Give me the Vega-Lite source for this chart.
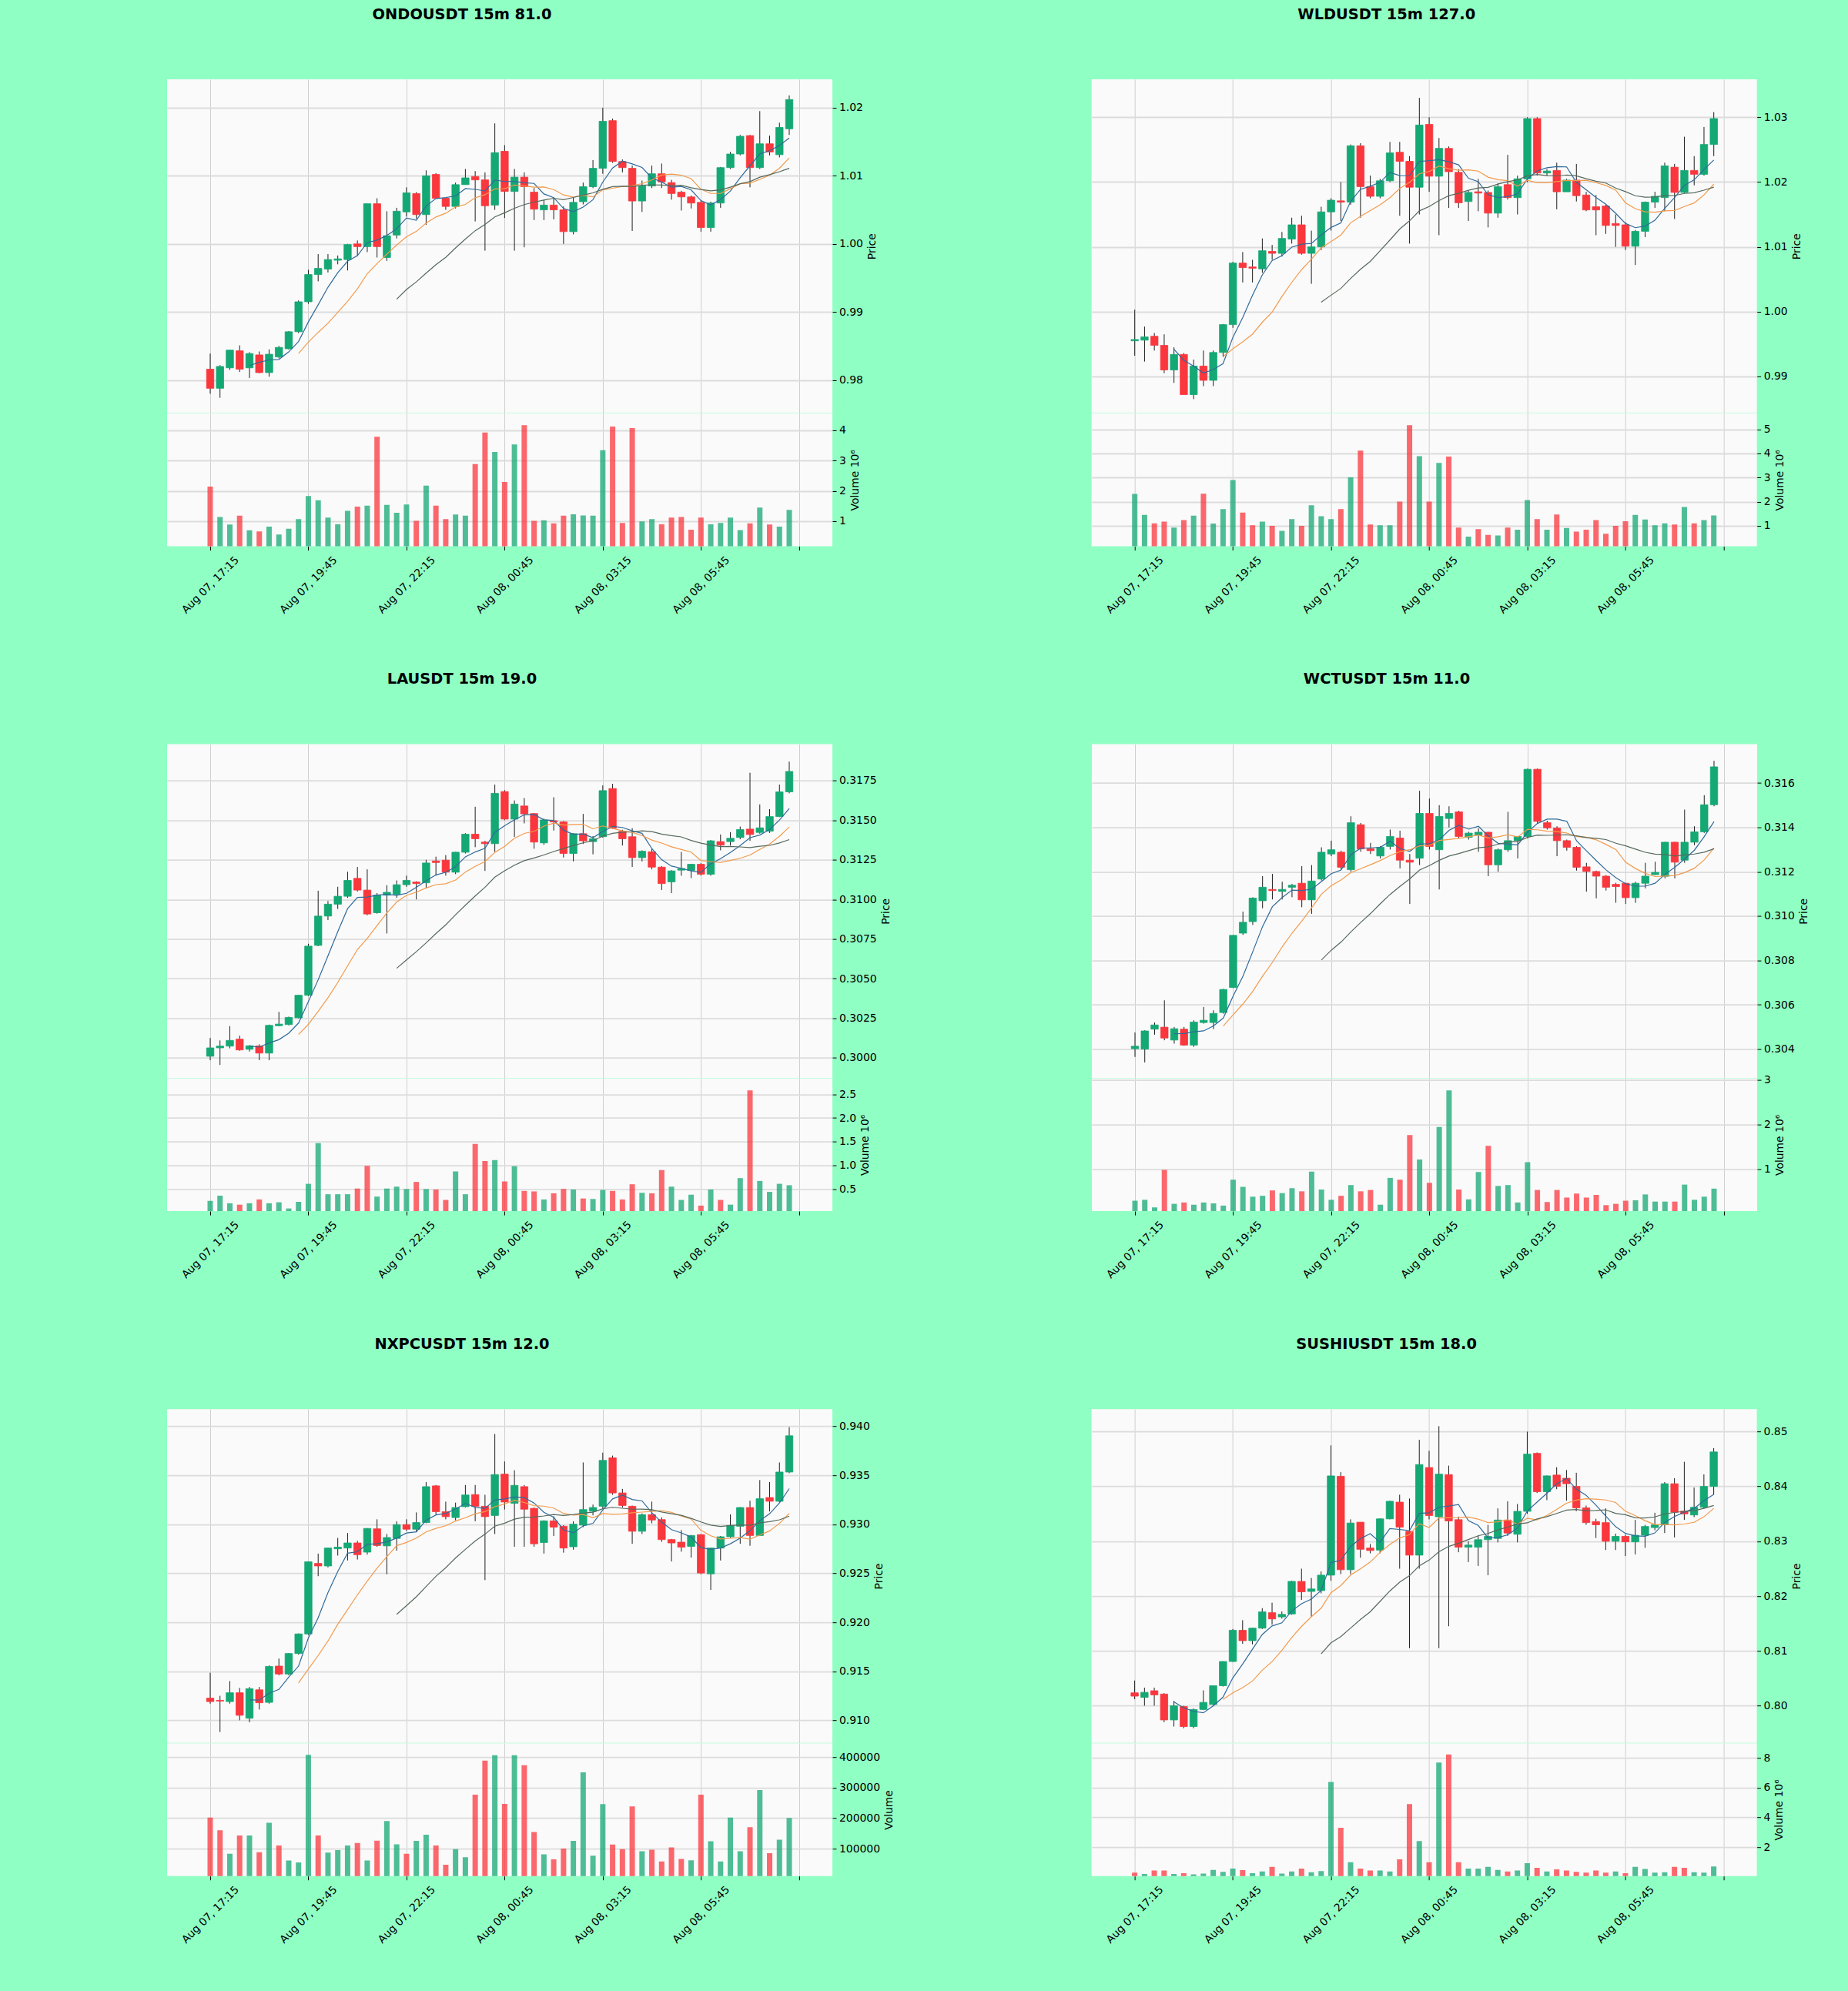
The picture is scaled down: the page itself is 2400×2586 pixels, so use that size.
{
  "$schema": "https://vega.github.io/schema/vega-lite/v6.json",
  "description": "Six 15m candlestick panels with MA5/MA10/MA20 and volume.",
  "background": "#90ffc4",
  "padding": {"left": 217, "top": 8, "right": 52, "bottom": 63},
  "config": {
    "font": "DejaVu Sans",
    "view": {"stroke": null, "fill": "#fafafa"},
    "title": {"fontSize": 19.4, "fontWeight": "bold", "color": "#000000", "anchor": "middle", "frame": "group", "offset": 74, "dx": -49},
    "axis": {"labelFontSize": 13.9, "titleFontSize": 13.9, "titleFontWeight": "normal", "labelColor": "#000000", "titleColor": "#000000", "domain": false, "tickColor": "#000000", "tickSize": 5, "labelPadding": 3.5, "titlePadding": 5},
    "axisX": {"gridColor": "#cfcfcf", "gridWidth": 1},
    "axisY": {"gridColor": "#dcdcdc", "gridWidth": 1.8, "titleAngle": 270, "titleBaseline": "top"}
  },
  "datasets": {
    "ondo": [
      {"t":"2025-08-07T17:15","o":0.9816,"h":0.9839,"l":0.9780,"c":0.9788,"v":2140000},
      {"t":"2025-08-07T17:30","o":0.9788,"h":0.9822,"l":0.9774,"c":0.9820,"v":1140000},
      {"t":"2025-08-07T17:45","o":0.9818,"h":0.9844,"l":0.9815,"c":0.9844,"v":890000},
      {"t":"2025-08-07T18:00","o":0.9843,"h":0.9851,"l":0.9812,"c":0.9816,"v":1180000},
      {"t":"2025-08-07T18:15","o":0.9818,"h":0.9841,"l":0.9803,"c":0.9839,"v":700000},
      {"t":"2025-08-07T18:30","o":0.9837,"h":0.9842,"l":0.9810,"c":0.9811,"v":660000},
      {"t":"2025-08-07T18:45","o":0.9811,"h":0.9845,"l":0.9805,"c":0.9838,"v":820000},
      {"t":"2025-08-07T19:00","o":0.9834,"h":0.9850,"l":0.9832,"c":0.9848,"v":560000},
      {"t":"2025-08-07T19:15","o":0.9846,"h":0.9872,"l":0.9845,"c":0.9871,"v":750000},
      {"t":"2025-08-07T19:30","o":0.9871,"h":0.9917,"l":0.9869,"c":0.9915,"v":1070000},
      {"t":"2025-08-07T19:45","o":0.9915,"h":0.9962,"l":0.9912,"c":0.9955,"v":1830000},
      {"t":"2025-08-07T20:00","o":0.9955,"h":0.9985,"l":0.9945,"c":0.9964,"v":1690000},
      {"t":"2025-08-07T20:15","o":0.9963,"h":0.9985,"l":0.9958,"c":0.9977,"v":1120000},
      {"t":"2025-08-07T20:30","o":0.9976,"h":0.9983,"l":0.9970,"c":0.9978,"v":900000},
      {"t":"2025-08-07T20:45","o":0.9977,"h":1.0000,"l":0.9961,"c":0.9999,"v":1340000},
      {"t":"2025-08-07T21:00","o":1.0000,"h":1.0005,"l":0.9982,"c":0.9996,"v":1480000},
      {"t":"2025-08-07T21:15","o":0.9996,"h":1.0059,"l":0.9988,"c":1.0059,"v":1510000},
      {"t":"2025-08-07T21:30","o":1.0059,"h":1.0067,"l":0.9980,"c":0.9996,"v":3780000},
      {"t":"2025-08-07T21:45","o":0.9980,"h":1.0048,"l":0.9975,"c":1.0012,"v":1540000},
      {"t":"2025-08-07T22:00","o":1.0013,"h":1.0053,"l":1.0008,"c":1.0048,"v":1280000},
      {"t":"2025-08-07T22:15","o":1.0047,"h":1.0083,"l":1.0040,"c":1.0075,"v":1550000},
      {"t":"2025-08-07T22:30","o":1.0074,"h":1.0076,"l":1.0037,"c":1.0043,"v":1010000},
      {"t":"2025-08-07T22:45","o":1.0043,"h":1.0108,"l":1.0028,"c":1.0100,"v":2170000},
      {"t":"2025-08-07T23:00","o":1.0102,"h":1.0104,"l":1.0067,"c":1.0067,"v":1510000},
      {"t":"2025-08-07T23:15","o":1.0067,"h":1.0067,"l":1.0050,"c":1.0055,"v":1070000},
      {"t":"2025-08-07T23:30","o":1.0055,"h":1.0090,"l":1.0052,"c":1.0087,"v":1220000},
      {"t":"2025-08-07T23:45","o":1.0087,"h":1.0110,"l":1.0087,"c":1.0097,"v":1180000},
      {"t":"2025-08-08T00:00","o":1.0099,"h":1.0107,"l":1.0033,"c":1.0094,"v":2880000},
      {"t":"2025-08-08T00:15","o":1.0094,"h":1.0105,"l":0.9990,"c":1.0056,"v":3920000},
      {"t":"2025-08-08T00:30","o":1.0057,"h":1.0177,"l":1.0050,"c":1.0134,"v":3280000},
      {"t":"2025-08-08T00:45","o":1.0136,"h":1.0145,"l":1.0038,"c":1.0077,"v":2290000},
      {"t":"2025-08-08T01:00","o":1.0077,"h":1.0110,"l":0.9990,"c":1.0098,"v":3530000},
      {"t":"2025-08-08T01:15","o":1.0098,"h":1.0105,"l":0.9995,"c":1.0084,"v":4160000},
      {"t":"2025-08-08T01:30","o":1.0076,"h":1.0082,"l":1.0035,"c":1.0051,"v":1010000},
      {"t":"2025-08-08T01:45","o":1.0050,"h":1.0065,"l":1.0035,"c":1.0057,"v":1030000},
      {"t":"2025-08-08T02:00","o":1.0057,"h":1.0068,"l":1.0036,"c":1.0050,"v":930000},
      {"t":"2025-08-08T02:15","o":1.0050,"h":1.0055,"l":1.0000,"c":1.0018,"v":1180000},
      {"t":"2025-08-08T02:30","o":1.0018,"h":1.0068,"l":1.0014,"c":1.0061,"v":1230000},
      {"t":"2025-08-08T02:45","o":1.0062,"h":1.0090,"l":1.0058,"c":1.0084,"v":1190000},
      {"t":"2025-08-08T03:00","o":1.0084,"h":1.0123,"l":1.0082,"c":1.0111,"v":1180000},
      {"t":"2025-08-08T03:15","o":1.0111,"h":1.0200,"l":1.0103,"c":1.0180,"v":3340000},
      {"t":"2025-08-08T03:30","o":1.0181,"h":1.0184,"l":1.0119,"c":1.0121,"v":4120000},
      {"t":"2025-08-08T03:45","o":1.0121,"h":1.0124,"l":1.0105,"c":1.0112,"v":940000},
      {"t":"2025-08-08T04:00","o":1.0111,"h":1.0115,"l":1.0019,"c":1.0063,"v":4070000},
      {"t":"2025-08-08T04:15","o":1.0063,"h":1.0093,"l":1.0047,"c":1.0085,"v":990000},
      {"t":"2025-08-08T04:30","o":1.0085,"h":1.0115,"l":1.0082,"c":1.0103,"v":1070000},
      {"t":"2025-08-08T04:45","o":1.0103,"h":1.0118,"l":1.0082,"c":1.0091,"v":900000},
      {"t":"2025-08-08T05:00","o":1.0090,"h":1.0094,"l":1.0065,"c":1.0074,"v":1120000},
      {"t":"2025-08-08T05:15","o":1.0076,"h":1.0078,"l":1.0049,"c":1.0069,"v":1140000},
      {"t":"2025-08-08T05:30","o":1.0069,"h":1.0071,"l":1.0052,"c":1.0060,"v":720000},
      {"t":"2025-08-08T05:45","o":1.0061,"h":1.0064,"l":1.0018,"c":1.0024,"v":1120000},
      {"t":"2025-08-08T06:00","o":1.0024,"h":1.0062,"l":1.0018,"c":1.0060,"v":900000},
      {"t":"2025-08-08T06:15","o":1.0060,"h":1.0113,"l":1.0053,"c":1.0112,"v":940000},
      {"t":"2025-08-08T06:30","o":1.0112,"h":1.0135,"l":1.0110,"c":1.0132,"v":1120000},
      {"t":"2025-08-08T06:45","o":1.0132,"h":1.0160,"l":1.0130,"c":1.0158,"v":710000},
      {"t":"2025-08-08T07:00","o":1.0159,"h":1.0160,"l":1.0083,"c":1.0112,"v":930000},
      {"t":"2025-08-08T07:15","o":1.0112,"h":1.0195,"l":1.0110,"c":1.0147,"v":1450000},
      {"t":"2025-08-08T07:30","o":1.0147,"h":1.0159,"l":1.0130,"c":1.0135,"v":890000},
      {"t":"2025-08-08T07:45","o":1.0131,"h":1.0178,"l":1.0127,"c":1.0171,"v":820000},
      {"t":"2025-08-08T08:00","o":1.0169,"h":1.0218,"l":1.0160,"c":1.0212,"v":1370000}
    ],
    "wld": [
      {"t":"2025-08-07T17:15","o":0.9955,"h":1.0003,"l":0.9932,"c":0.9957,"v":2320000},
      {"t":"2025-08-07T17:30","o":0.9956,"h":0.9977,"l":0.9923,"c":0.9961,"v":1450000},
      {"t":"2025-08-07T17:45","o":0.9962,"h":0.9967,"l":0.9940,"c":0.9948,"v":1100000},
      {"t":"2025-08-07T18:00","o":0.9948,"h":0.9965,"l":0.9905,"c":0.9910,"v":1170000},
      {"t":"2025-08-07T18:15","o":0.9910,"h":0.9945,"l":0.9890,"c":0.9934,"v":930000},
      {"t":"2025-08-07T18:30","o":0.9934,"h":0.9936,"l":0.9872,"c":0.9872,"v":1240000},
      {"t":"2025-08-07T18:45","o":0.9872,"h":0.9926,"l":0.9865,"c":0.9916,"v":1420000},
      {"t":"2025-08-07T19:00","o":0.9916,"h":0.9940,"l":0.9885,"c":0.9894,"v":2330000},
      {"t":"2025-08-07T19:15","o":0.9894,"h":0.9940,"l":0.9885,"c":0.9937,"v":1090000},
      {"t":"2025-08-07T19:30","o":0.9937,"h":0.9981,"l":0.9930,"c":0.9980,"v":1690000},
      {"t":"2025-08-07T19:45","o":0.9980,"h":1.0077,"l":0.9975,"c":1.0075,"v":2900000},
      {"t":"2025-08-07T20:00","o":1.0075,"h":1.0092,"l":1.0045,"c":1.0068,"v":1550000},
      {"t":"2025-08-07T20:15","o":1.0069,"h":1.0080,"l":1.0045,"c":1.0067,"v":1020000},
      {"t":"2025-08-07T20:30","o":1.0066,"h":1.0113,"l":1.0060,"c":1.0094,"v":1170000},
      {"t":"2025-08-07T20:45","o":1.0093,"h":1.0103,"l":1.0080,"c":1.0090,"v":1000000},
      {"t":"2025-08-07T21:00","o":1.0090,"h":1.0123,"l":1.0085,"c":1.0113,"v":790000},
      {"t":"2025-08-07T21:15","o":1.0112,"h":1.0145,"l":1.0105,"c":1.0134,"v":1280000},
      {"t":"2025-08-07T21:30","o":1.0134,"h":1.0148,"l":1.0088,"c":1.0090,"v":1000000},
      {"t":"2025-08-07T21:45","o":1.0090,"h":1.0125,"l":1.0043,"c":1.0100,"v":1850000},
      {"t":"2025-08-07T22:00","o":1.0100,"h":1.0162,"l":1.0095,"c":1.0154,"v":1400000},
      {"t":"2025-08-07T22:15","o":1.0154,"h":1.0175,"l":1.0125,"c":1.0172,"v":1280000},
      {"t":"2025-08-07T22:30","o":1.0171,"h":1.0200,"l":1.0140,"c":1.0169,"v":1690000},
      {"t":"2025-08-07T22:45","o":1.0169,"h":1.0258,"l":1.0165,"c":1.0256,"v":3010000},
      {"t":"2025-08-07T23:00","o":1.0256,"h":1.0260,"l":1.0145,"c":1.0193,"v":4120000},
      {"t":"2025-08-07T23:15","o":1.0193,"h":1.0210,"l":1.0175,"c":1.0178,"v":1050000},
      {"t":"2025-08-07T23:30","o":1.0178,"h":1.0205,"l":1.0175,"c":1.0202,"v":1020000},
      {"t":"2025-08-07T23:45","o":1.0202,"h":1.0262,"l":1.0200,"c":1.0245,"v":1020000},
      {"t":"2025-08-08T00:00","o":1.0246,"h":1.0262,"l":1.0148,"c":1.0232,"v":2000000},
      {"t":"2025-08-08T00:15","o":1.0232,"h":1.0240,"l":1.0105,"c":1.0192,"v":5170000},
      {"t":"2025-08-08T00:30","o":1.0192,"h":1.0330,"l":1.0150,"c":1.0288,"v":3890000},
      {"t":"2025-08-08T00:45","o":1.0289,"h":1.0300,"l":1.0185,"c":1.0209,"v":2000000},
      {"t":"2025-08-08T01:00","o":1.0209,"h":1.0268,"l":1.0118,"c":1.0252,"v":3610000},
      {"t":"2025-08-08T01:15","o":1.0252,"h":1.0255,"l":1.0160,"c":1.0216,"v":3870000},
      {"t":"2025-08-08T01:30","o":1.0215,"h":1.0220,"l":1.0160,"c":1.0168,"v":930000},
      {"t":"2025-08-08T01:45","o":1.0170,"h":1.0187,"l":1.0140,"c":1.0184,"v":550000},
      {"t":"2025-08-08T02:00","o":1.0185,"h":1.0205,"l":1.0155,"c":1.0183,"v":860000},
      {"t":"2025-08-08T02:15","o":1.0184,"h":1.0187,"l":1.0130,"c":1.0152,"v":620000},
      {"t":"2025-08-08T02:30","o":1.0152,"h":1.0198,"l":1.0145,"c":1.0193,"v":600000},
      {"t":"2025-08-08T02:45","o":1.0196,"h":1.0242,"l":1.0173,"c":1.0176,"v":930000},
      {"t":"2025-08-08T03:00","o":1.0176,"h":1.0210,"l":1.0150,"c":1.0205,"v":840000},
      {"t":"2025-08-08T03:15","o":1.0205,"h":1.0300,"l":1.0200,"c":1.0298,"v":2070000},
      {"t":"2025-08-08T03:30","o":1.0298,"h":1.0300,"l":1.0210,"c":1.0214,"v":1280000},
      {"t":"2025-08-08T03:45","o":1.0214,"h":1.0220,"l":1.0210,"c":1.0217,"v":840000},
      {"t":"2025-08-08T04:00","o":1.0218,"h":1.0230,"l":1.0158,"c":1.0185,"v":1470000},
      {"t":"2025-08-08T04:15","o":1.0185,"h":1.0205,"l":1.0185,"c":1.0203,"v":910000},
      {"t":"2025-08-08T04:30","o":1.0203,"h":1.0228,"l":1.0170,"c":1.0179,"v":760000},
      {"t":"2025-08-08T04:45","o":1.0180,"h":1.0185,"l":1.0155,"c":1.0157,"v":840000},
      {"t":"2025-08-08T05:00","o":1.0162,"h":1.0180,"l":1.0118,"c":1.0157,"v":1240000},
      {"t":"2025-08-08T05:15","o":1.0163,"h":1.0165,"l":1.0120,"c":1.0133,"v":670000},
      {"t":"2025-08-08T05:30","o":1.0136,"h":1.0150,"l":1.0100,"c":1.0133,"v":1000000},
      {"t":"2025-08-08T05:45","o":1.0134,"h":1.0138,"l":1.0095,"c":1.0101,"v":1190000},
      {"t":"2025-08-08T06:00","o":1.0101,"h":1.0126,"l":1.0072,"c":1.0124,"v":1450000},
      {"t":"2025-08-08T06:15","o":1.0124,"h":1.0170,"l":1.0115,"c":1.0169,"v":1260000},
      {"t":"2025-08-08T06:30","o":1.0169,"h":1.0185,"l":1.0160,"c":1.0178,"v":1020000},
      {"t":"2025-08-08T06:45","o":1.0176,"h":1.0230,"l":1.0155,"c":1.0225,"v":1100000},
      {"t":"2025-08-08T07:00","o":1.0223,"h":1.0228,"l":1.0143,"c":1.0184,"v":1050000},
      {"t":"2025-08-08T07:15","o":1.0184,"h":1.0270,"l":1.0183,"c":1.0218,"v":1780000},
      {"t":"2025-08-08T07:30","o":1.0218,"h":1.0240,"l":1.0195,"c":1.0212,"v":1100000},
      {"t":"2025-08-08T07:45","o":1.0212,"h":1.0285,"l":1.0210,"c":1.0258,"v":1240000},
      {"t":"2025-08-08T08:00","o":1.0258,"h":1.0308,"l":1.0240,"c":1.0298,"v":1430000}
    ],
    "lau": [
      {"t":"2025-08-07T17:15","o":0.30010,"h":0.30125,"l":0.29985,"c":0.30063,"v":250000},
      {"t":"2025-08-07T17:30","o":0.30063,"h":0.30110,"l":0.29955,"c":0.30074,"v":360000},
      {"t":"2025-08-07T17:45","o":0.30074,"h":0.30200,"l":0.30060,"c":0.30110,"v":200000},
      {"t":"2025-08-07T18:00","o":0.30118,"h":0.30140,"l":0.30045,"c":0.30050,"v":170000},
      {"t":"2025-08-07T18:15","o":0.30054,"h":0.30080,"l":0.30040,"c":0.30076,"v":200000},
      {"t":"2025-08-07T18:30","o":0.30075,"h":0.30085,"l":0.29985,"c":0.30030,"v":280000},
      {"t":"2025-08-07T18:45","o":0.30030,"h":0.30210,"l":0.29985,"c":0.30205,"v":200000},
      {"t":"2025-08-07T19:00","o":0.30203,"h":0.30290,"l":0.30200,"c":0.30213,"v":220000},
      {"t":"2025-08-07T19:15","o":0.30210,"h":0.30260,"l":0.30205,"c":0.30255,"v":90000},
      {"t":"2025-08-07T19:30","o":0.30253,"h":0.30398,"l":0.30250,"c":0.30395,"v":230000},
      {"t":"2025-08-07T19:45","o":0.30395,"h":0.30720,"l":0.30390,"c":0.30705,"v":610000},
      {"t":"2025-08-07T20:00","o":0.30710,"h":0.31055,"l":0.30705,"c":0.30895,"v":1470000},
      {"t":"2025-08-07T20:15","o":0.30895,"h":0.30990,"l":0.30870,"c":0.30970,"v":390000},
      {"t":"2025-08-07T20:30","o":0.30970,"h":0.31080,"l":0.30940,"c":0.31020,"v":390000},
      {"t":"2025-08-07T20:45","o":0.31020,"h":0.31175,"l":0.31010,"c":0.31120,"v":390000},
      {"t":"2025-08-07T21:00","o":0.31133,"h":0.31205,"l":0.31050,"c":0.31059,"v":510000},
      {"t":"2025-08-07T21:15","o":0.31059,"h":0.31190,"l":0.30900,"c":0.30908,"v":990000},
      {"t":"2025-08-07T21:30","o":0.30916,"h":0.31040,"l":0.30910,"c":0.31027,"v":340000},
      {"t":"2025-08-07T21:45","o":0.31027,"h":0.31090,"l":0.30785,"c":0.31045,"v":510000},
      {"t":"2025-08-07T22:00","o":0.31032,"h":0.31120,"l":0.31010,"c":0.31093,"v":550000},
      {"t":"2025-08-07T22:15","o":0.31093,"h":0.31150,"l":0.31080,"c":0.31120,"v":500000},
      {"t":"2025-08-07T22:30","o":0.31110,"h":0.31115,"l":0.31000,"c":0.31100,"v":650000},
      {"t":"2025-08-07T22:45","o":0.31105,"h":0.31250,"l":0.31070,"c":0.31230,"v":500000},
      {"t":"2025-08-07T23:00","o":0.31243,"h":0.31270,"l":0.31150,"c":0.31233,"v":490000},
      {"t":"2025-08-07T23:15","o":0.31248,"h":0.31280,"l":0.31150,"c":0.31172,"v":270000},
      {"t":"2025-08-07T23:30","o":0.31172,"h":0.31300,"l":0.31160,"c":0.31298,"v":870000},
      {"t":"2025-08-07T23:45","o":0.31298,"h":0.31418,"l":0.31290,"c":0.31412,"v":390000},
      {"t":"2025-08-08T00:00","o":0.31412,"h":0.31585,"l":0.31330,"c":0.31383,"v":1450000},
      {"t":"2025-08-08T00:15","o":0.31362,"h":0.31370,"l":0.31180,"c":0.31352,"v":1090000},
      {"t":"2025-08-08T00:30","o":0.31352,"h":0.31725,"l":0.31300,"c":0.31670,"v":1110000},
      {"t":"2025-08-08T00:45","o":0.31681,"h":0.31690,"l":0.31500,"c":0.31507,"v":660000},
      {"t":"2025-08-08T01:00","o":0.31507,"h":0.31625,"l":0.31395,"c":0.31602,"v":980000},
      {"t":"2025-08-08T01:15","o":0.31590,"h":0.31640,"l":0.31480,"c":0.31540,"v":460000},
      {"t":"2025-08-08T01:30","o":0.31542,"h":0.31545,"l":0.31320,"c":0.31362,"v":450000},
      {"t":"2025-08-08T01:45","o":0.31357,"h":0.31510,"l":0.31345,"c":0.31502,"v":280000},
      {"t":"2025-08-08T02:00","o":0.31497,"h":0.31645,"l":0.31435,"c":0.31489,"v":410000},
      {"t":"2025-08-08T02:15","o":0.31489,"h":0.31495,"l":0.31265,"c":0.31290,"v":500000},
      {"t":"2025-08-08T02:30","o":0.31290,"h":0.31418,"l":0.31240,"c":0.31415,"v":490000},
      {"t":"2025-08-08T02:45","o":0.31415,"h":0.31540,"l":0.31350,"c":0.31370,"v":300000},
      {"t":"2025-08-08T03:00","o":0.31365,"h":0.31400,"l":0.31285,"c":0.31383,"v":290000},
      {"t":"2025-08-08T03:15","o":0.31396,"h":0.31720,"l":0.31390,"c":0.31687,"v":480000},
      {"t":"2025-08-08T03:30","o":0.31700,"h":0.31730,"l":0.31445,"c":0.31449,"v":460000},
      {"t":"2025-08-08T03:45","o":0.31430,"h":0.31440,"l":0.31340,"c":0.31383,"v":280000},
      {"t":"2025-08-08T04:00","o":0.31396,"h":0.31450,"l":0.31205,"c":0.31264,"v":600000},
      {"t":"2025-08-08T04:15","o":0.31264,"h":0.31310,"l":0.31240,"c":0.31304,"v":420000},
      {"t":"2025-08-08T04:30","o":0.31301,"h":0.31320,"l":0.31190,"c":0.31204,"v":410000},
      {"t":"2025-08-08T04:45","o":0.31204,"h":0.31210,"l":0.31060,"c":0.31100,"v":900000},
      {"t":"2025-08-08T05:00","o":0.31111,"h":0.31185,"l":0.31040,"c":0.31180,"v":550000},
      {"t":"2025-08-08T05:15","o":0.31185,"h":0.31300,"l":0.31150,"c":0.31195,"v":270000},
      {"t":"2025-08-08T05:30","o":0.31183,"h":0.31225,"l":0.31135,"c":0.31222,"v":380000},
      {"t":"2025-08-08T05:45","o":0.31222,"h":0.31230,"l":0.31150,"c":0.31159,"v":150000},
      {"t":"2025-08-08T06:00","o":0.31159,"h":0.31375,"l":0.31150,"c":0.31370,"v":490000},
      {"t":"2025-08-08T06:15","o":0.31365,"h":0.31410,"l":0.31310,"c":0.31343,"v":270000},
      {"t":"2025-08-08T06:30","o":0.31365,"h":0.31425,"l":0.31340,"c":0.31386,"v":170000},
      {"t":"2025-08-08T06:45","o":0.31391,"h":0.31460,"l":0.31380,"c":0.31441,"v":730000},
      {"t":"2025-08-08T07:00","o":0.31444,"h":0.31800,"l":0.31370,"c":0.31410,"v":2580000},
      {"t":"2025-08-08T07:15","o":0.31423,"h":0.31600,"l":0.31415,"c":0.31452,"v":670000},
      {"t":"2025-08-08T07:30","o":0.31431,"h":0.31570,"l":0.31420,"c":0.31523,"v":440000},
      {"t":"2025-08-08T07:45","o":0.31523,"h":0.31725,"l":0.31520,"c":0.31679,"v":610000},
      {"t":"2025-08-08T08:00","o":0.31679,"h":0.31870,"l":0.31670,"c":0.31808,"v":580000}
    ],
    "wct": [
      {"t":"2025-08-07T17:15","o":0.30402,"h":0.30475,"l":0.30365,"c":0.30413,"v":290000},
      {"t":"2025-08-07T17:30","o":0.30400,"h":0.30485,"l":0.30340,"c":0.30482,"v":310000},
      {"t":"2025-08-07T17:45","o":0.30490,"h":0.30520,"l":0.30465,"c":0.30509,"v":140000},
      {"t":"2025-08-07T18:00","o":0.30499,"h":0.30620,"l":0.30440,"c":0.30450,"v":980000},
      {"t":"2025-08-07T18:15","o":0.30441,"h":0.30500,"l":0.30425,"c":0.30492,"v":220000},
      {"t":"2025-08-07T18:30","o":0.30490,"h":0.30500,"l":0.30415,"c":0.30418,"v":250000},
      {"t":"2025-08-07T18:45","o":0.30418,"h":0.30530,"l":0.30410,"c":0.30522,"v":200000},
      {"t":"2025-08-07T19:00","o":0.30520,"h":0.30590,"l":0.30515,"c":0.30530,"v":250000},
      {"t":"2025-08-07T19:15","o":0.30520,"h":0.30575,"l":0.30490,"c":0.30561,"v":230000},
      {"t":"2025-08-07T19:30","o":0.30565,"h":0.30672,"l":0.30560,"c":0.30669,"v":180000},
      {"t":"2025-08-07T19:45","o":0.30678,"h":0.30915,"l":0.30675,"c":0.30913,"v":760000},
      {"t":"2025-08-07T20:00","o":0.30923,"h":0.31020,"l":0.30915,"c":0.30972,"v":600000},
      {"t":"2025-08-07T20:15","o":0.30975,"h":0.31085,"l":0.30960,"c":0.31081,"v":380000},
      {"t":"2025-08-07T20:30","o":0.31069,"h":0.31180,"l":0.31035,"c":0.31130,"v":400000},
      {"t":"2025-08-07T20:45","o":0.31120,"h":0.31190,"l":0.31075,"c":0.31115,"v":520000},
      {"t":"2025-08-07T21:00","o":0.31111,"h":0.31155,"l":0.31075,"c":0.31120,"v":460000},
      {"t":"2025-08-07T21:15","o":0.31130,"h":0.31145,"l":0.31085,"c":0.31139,"v":570000},
      {"t":"2025-08-07T21:30","o":0.31148,"h":0.31225,"l":0.31040,"c":0.31073,"v":500000},
      {"t":"2025-08-07T21:45","o":0.31073,"h":0.31230,"l":0.31010,"c":0.31158,"v":940000},
      {"t":"2025-08-07T22:00","o":0.31167,"h":0.31310,"l":0.31160,"c":0.31288,"v":540000},
      {"t":"2025-08-07T22:15","o":0.31280,"h":0.31340,"l":0.31270,"c":0.31299,"v":310000},
      {"t":"2025-08-07T22:30","o":0.31288,"h":0.31295,"l":0.31210,"c":0.31220,"v":400000},
      {"t":"2025-08-07T22:45","o":0.31209,"h":0.31450,"l":0.31200,"c":0.31421,"v":640000},
      {"t":"2025-08-07T23:00","o":0.31412,"h":0.31420,"l":0.31290,"c":0.31303,"v":500000},
      {"t":"2025-08-07T23:15","o":0.31303,"h":0.31330,"l":0.31280,"c":0.31295,"v":530000},
      {"t":"2025-08-07T23:30","o":0.31271,"h":0.31315,"l":0.31260,"c":0.31310,"v":200000},
      {"t":"2025-08-07T23:45","o":0.31314,"h":0.31390,"l":0.31300,"c":0.31359,"v":800000},
      {"t":"2025-08-08T00:00","o":0.31352,"h":0.31385,"l":0.31215,"c":0.31252,"v":760000},
      {"t":"2025-08-08T00:15","o":0.31252,"h":0.31280,"l":0.31055,"c":0.31243,"v":1760000},
      {"t":"2025-08-08T00:30","o":0.31261,"h":0.31565,"l":0.31230,"c":0.31463,"v":1210000},
      {"t":"2025-08-08T00:45","o":0.31463,"h":0.31530,"l":0.31300,"c":0.31314,"v":690000},
      {"t":"2025-08-08T01:00","o":0.31299,"h":0.31500,"l":0.31120,"c":0.31449,"v":1940000},
      {"t":"2025-08-08T01:15","o":0.31440,"h":0.31495,"l":0.31400,"c":0.31463,"v":2760000},
      {"t":"2025-08-08T01:30","o":0.31470,"h":0.31475,"l":0.31350,"c":0.31359,"v":540000},
      {"t":"2025-08-08T01:45","o":0.31355,"h":0.31380,"l":0.31345,"c":0.31374,"v":320000},
      {"t":"2025-08-08T02:00","o":0.31365,"h":0.31395,"l":0.31290,"c":0.31378,"v":930000},
      {"t":"2025-08-08T02:15","o":0.31378,"h":0.31380,"l":0.31180,"c":0.31231,"v":1520000},
      {"t":"2025-08-08T02:30","o":0.31231,"h":0.31305,"l":0.31200,"c":0.31299,"v":620000},
      {"t":"2025-08-08T02:45","o":0.31299,"h":0.31470,"l":0.31290,"c":0.31340,"v":640000},
      {"t":"2025-08-08T03:00","o":0.31340,"h":0.31360,"l":0.31260,"c":0.31359,"v":250000},
      {"t":"2025-08-08T03:15","o":0.31359,"h":0.31665,"l":0.31350,"c":0.31662,"v":1150000},
      {"t":"2025-08-08T03:30","o":0.31662,"h":0.31665,"l":0.31420,"c":0.31427,"v":530000},
      {"t":"2025-08-08T03:45","o":0.31421,"h":0.31430,"l":0.31390,"c":0.31398,"v":260000},
      {"t":"2025-08-08T04:00","o":0.31397,"h":0.31405,"l":0.31270,"c":0.31340,"v":530000},
      {"t":"2025-08-08T04:15","o":0.31340,"h":0.31345,"l":0.31295,"c":0.31310,"v":360000},
      {"t":"2025-08-08T04:30","o":0.31310,"h":0.31315,"l":0.31205,"c":0.31220,"v":450000},
      {"t":"2025-08-08T04:45","o":0.31222,"h":0.31240,"l":0.31110,"c":0.31201,"v":360000},
      {"t":"2025-08-08T05:00","o":0.31201,"h":0.31205,"l":0.31080,"c":0.31180,"v":420000},
      {"t":"2025-08-08T05:15","o":0.31180,"h":0.31185,"l":0.31115,"c":0.31130,"v":190000},
      {"t":"2025-08-08T05:30","o":0.31143,"h":0.31150,"l":0.31060,"c":0.31133,"v":220000},
      {"t":"2025-08-08T05:45","o":0.31148,"h":0.31150,"l":0.31055,"c":0.31083,"v":290000},
      {"t":"2025-08-08T06:00","o":0.31083,"h":0.31155,"l":0.31060,"c":0.31148,"v":300000},
      {"t":"2025-08-08T06:15","o":0.31148,"h":0.31240,"l":0.31125,"c":0.31180,"v":430000},
      {"t":"2025-08-08T06:30","o":0.31187,"h":0.31245,"l":0.31185,"c":0.31197,"v":270000},
      {"t":"2025-08-08T06:45","o":0.31179,"h":0.31335,"l":0.31170,"c":0.31333,"v":270000},
      {"t":"2025-08-08T07:00","o":0.31333,"h":0.31335,"l":0.31170,"c":0.31243,"v":270000},
      {"t":"2025-08-08T07:15","o":0.31252,"h":0.31480,"l":0.31240,"c":0.31333,"v":650000},
      {"t":"2025-08-08T07:30","o":0.31333,"h":0.31405,"l":0.31320,"c":0.31380,"v":310000},
      {"t":"2025-08-08T07:45","o":0.31380,"h":0.31545,"l":0.31375,"c":0.31502,"v":380000},
      {"t":"2025-08-08T08:00","o":0.31502,"h":0.31700,"l":0.31495,"c":0.31673,"v":560000}
    ],
    "nxpc": [
      {"t":"2025-08-07T17:15","o":0.91226,"h":0.91485,"l":0.91170,"c":0.91191,"v":202000},
      {"t":"2025-08-07T17:30","o":0.91204,"h":0.91250,"l":0.90880,"c":0.91196,"v":161000},
      {"t":"2025-08-07T17:45","o":0.91191,"h":0.91400,"l":0.91170,"c":0.91281,"v":84000},
      {"t":"2025-08-07T18:00","o":0.91281,"h":0.91330,"l":0.91000,"c":0.91051,"v":144000},
      {"t":"2025-08-07T18:15","o":0.91021,"h":0.91340,"l":0.90980,"c":0.91323,"v":144000},
      {"t":"2025-08-07T18:30","o":0.91311,"h":0.91340,"l":0.91110,"c":0.91179,"v":89000},
      {"t":"2025-08-07T18:45","o":0.91183,"h":0.91560,"l":0.91170,"c":0.91549,"v":185000},
      {"t":"2025-08-07T19:00","o":0.91553,"h":0.91630,"l":0.91460,"c":0.91472,"v":111000},
      {"t":"2025-08-07T19:15","o":0.91472,"h":0.91685,"l":0.91460,"c":0.91681,"v":62000},
      {"t":"2025-08-07T19:30","o":0.91681,"h":0.91885,"l":0.91670,"c":0.91881,"v":56000},
      {"t":"2025-08-07T19:45","o":0.91881,"h":0.92620,"l":0.91870,"c":0.92617,"v":407000},
      {"t":"2025-08-07T20:00","o":0.92600,"h":0.92700,"l":0.92470,"c":0.92574,"v":144000},
      {"t":"2025-08-07T20:15","o":0.92574,"h":0.92760,"l":0.92560,"c":0.92757,"v":88000},
      {"t":"2025-08-07T20:30","o":0.92749,"h":0.92860,"l":0.92680,"c":0.92766,"v":96000},
      {"t":"2025-08-07T20:45","o":0.92757,"h":0.92910,"l":0.92630,"c":0.92809,"v":111000},
      {"t":"2025-08-07T21:00","o":0.92809,"h":0.92830,"l":0.92640,"c":0.92689,"v":119000},
      {"t":"2025-08-07T21:15","o":0.92715,"h":0.92960,"l":0.92690,"c":0.92957,"v":62000},
      {"t":"2025-08-07T21:30","o":0.92953,"h":0.93050,"l":0.92770,"c":0.92783,"v":127000},
      {"t":"2025-08-07T21:45","o":0.92779,"h":0.92900,"l":0.92490,"c":0.92864,"v":191000},
      {"t":"2025-08-07T22:00","o":0.92855,"h":0.93030,"l":0.92730,"c":0.92996,"v":115000},
      {"t":"2025-08-07T22:15","o":0.92996,"h":0.93050,"l":0.92930,"c":0.92949,"v":84000},
      {"t":"2025-08-07T22:30","o":0.92949,"h":0.93120,"l":0.92920,"c":0.93017,"v":126000},
      {"t":"2025-08-07T22:45","o":0.93017,"h":0.93430,"l":0.93010,"c":0.93383,"v":146000},
      {"t":"2025-08-07T23:00","o":0.93391,"h":0.93400,"l":0.93100,"c":0.93128,"v":111000},
      {"t":"2025-08-07T23:15","o":0.93128,"h":0.93230,"l":0.93050,"c":0.93077,"v":48000},
      {"t":"2025-08-07T23:30","o":0.93068,"h":0.93220,"l":0.93040,"c":0.93170,"v":99000},
      {"t":"2025-08-07T23:45","o":0.93179,"h":0.93400,"l":0.93170,"c":0.93298,"v":73000},
      {"t":"2025-08-08T00:00","o":0.93302,"h":0.93400,"l":0.93030,"c":0.93183,"v":277000},
      {"t":"2025-08-08T00:15","o":0.93183,"h":0.93300,"l":0.92430,"c":0.93077,"v":388000},
      {"t":"2025-08-08T00:30","o":0.93089,"h":0.93920,"l":0.92900,"c":0.93506,"v":406000},
      {"t":"2025-08-08T00:45","o":0.93511,"h":0.93640,"l":0.93150,"c":0.93226,"v":247000},
      {"t":"2025-08-08T01:00","o":0.93213,"h":0.93550,"l":0.92770,"c":0.93396,"v":406000},
      {"t":"2025-08-08T01:15","o":0.93383,"h":0.93400,"l":0.92770,"c":0.93153,"v":373000},
      {"t":"2025-08-08T01:30","o":0.93162,"h":0.93170,"l":0.92770,"c":0.92800,"v":155000},
      {"t":"2025-08-08T01:45","o":0.92813,"h":0.93040,"l":0.92700,"c":0.93034,"v":82000},
      {"t":"2025-08-08T02:00","o":0.93034,"h":0.93080,"l":0.92880,"c":0.92970,"v":66000},
      {"t":"2025-08-08T02:15","o":0.92979,"h":0.92990,"l":0.92710,"c":0.92757,"v":101000},
      {"t":"2025-08-08T02:30","o":0.92770,"h":0.93030,"l":0.92740,"c":0.93000,"v":126000},
      {"t":"2025-08-08T02:45","o":0.92991,"h":0.93630,"l":0.92970,"c":0.93149,"v":350000},
      {"t":"2025-08-08T03:00","o":0.93132,"h":0.93200,"l":0.93090,"c":0.93170,"v":78000},
      {"t":"2025-08-08T03:15","o":0.93183,"h":0.93730,"l":0.93160,"c":0.93651,"v":246000},
      {"t":"2025-08-08T03:30","o":0.93677,"h":0.93700,"l":0.93300,"c":0.93319,"v":114000},
      {"t":"2025-08-08T03:45","o":0.93319,"h":0.93360,"l":0.93170,"c":0.93191,"v":99000},
      {"t":"2025-08-08T04:00","o":0.93183,"h":0.93190,"l":0.92800,"c":0.92928,"v":239000},
      {"t":"2025-08-08T04:15","o":0.92928,"h":0.93110,"l":0.92900,"c":0.93098,"v":92000},
      {"t":"2025-08-08T04:30","o":0.93098,"h":0.93230,"l":0.93010,"c":0.93043,"v":97000},
      {"t":"2025-08-08T04:45","o":0.93047,"h":0.93070,"l":0.92820,"c":0.92843,"v":59000},
      {"t":"2025-08-08T05:00","o":0.92843,"h":0.92850,"l":0.92620,"c":0.92809,"v":105000},
      {"t":"2025-08-08T05:15","o":0.92817,"h":0.92940,"l":0.92720,"c":0.92766,"v":67000},
      {"t":"2025-08-08T05:30","o":0.92774,"h":0.92890,"l":0.92660,"c":0.92885,"v":63000},
      {"t":"2025-08-08T05:45","o":0.92894,"h":0.92900,"l":0.92490,"c":0.92502,"v":277000},
      {"t":"2025-08-08T06:00","o":0.92494,"h":0.92760,"l":0.92330,"c":0.92757,"v":125000},
      {"t":"2025-08-08T06:15","o":0.92757,"h":0.92880,"l":0.92630,"c":0.92872,"v":59000},
      {"t":"2025-08-08T06:30","o":0.92872,"h":0.93100,"l":0.92860,"c":0.92987,"v":202000},
      {"t":"2025-08-08T06:45","o":0.92979,"h":0.93175,"l":0.92800,"c":0.93170,"v":92000},
      {"t":"2025-08-08T07:00","o":0.93170,"h":0.93240,"l":0.92780,"c":0.92885,"v":171000},
      {"t":"2025-08-08T07:15","o":0.92885,"h":0.93450,"l":0.92880,"c":0.93260,"v":292000},
      {"t":"2025-08-08T07:30","o":0.93272,"h":0.93430,"l":0.93130,"c":0.93234,"v":86000},
      {"t":"2025-08-08T07:45","o":0.93234,"h":0.93630,"l":0.93220,"c":0.93532,"v":130000},
      {"t":"2025-08-08T08:00","o":0.93532,"h":0.93990,"l":0.93520,"c":0.93902,"v":201000}
    ],
    "sushi": [
      {"t":"2025-08-07T17:15","o":0.80236,"h":0.80460,"l":0.80120,"c":0.80175,"v":300000},
      {"t":"2025-08-07T17:30","o":0.80152,"h":0.80330,"l":0.80000,"c":0.80244,"v":210000},
      {"t":"2025-08-07T17:45","o":0.80274,"h":0.80330,"l":0.80000,"c":0.80198,"v":440000},
      {"t":"2025-08-07T18:00","o":0.80213,"h":0.80230,"l":0.79700,"c":0.79741,"v":440000},
      {"t":"2025-08-07T18:15","o":0.79741,"h":0.80090,"l":0.79620,"c":0.80000,"v":210000},
      {"t":"2025-08-07T18:30","o":0.79985,"h":0.80000,"l":0.79590,"c":0.79620,"v":270000},
      {"t":"2025-08-07T18:45","o":0.79620,"h":0.79950,"l":0.79590,"c":0.79932,"v":190000},
      {"t":"2025-08-07T19:00","o":0.79932,"h":0.80280,"l":0.79920,"c":0.80061,"v":240000},
      {"t":"2025-08-07T19:15","o":0.80023,"h":0.80370,"l":0.80010,"c":0.80365,"v":490000},
      {"t":"2025-08-07T19:30","o":0.80365,"h":0.80810,"l":0.80350,"c":0.80807,"v":350000},
      {"t":"2025-08-07T19:45","o":0.80807,"h":0.81400,"l":0.80800,"c":0.81377,"v":580000},
      {"t":"2025-08-07T20:00","o":0.81377,"h":0.81560,"l":0.81130,"c":0.81187,"v":470000},
      {"t":"2025-08-07T20:15","o":0.81187,"h":0.81420,"l":0.81120,"c":0.81415,"v":270000},
      {"t":"2025-08-07T20:30","o":0.81415,"h":0.81780,"l":0.81400,"c":0.81712,"v":380000},
      {"t":"2025-08-07T20:45","o":0.81697,"h":0.81880,"l":0.81480,"c":0.81583,"v":690000},
      {"t":"2025-08-07T21:00","o":0.81621,"h":0.81720,"l":0.81590,"c":0.81667,"v":240000},
      {"t":"2025-08-07T21:15","o":0.81674,"h":0.82280,"l":0.81660,"c":0.82268,"v":380000},
      {"t":"2025-08-07T21:30","o":0.82268,"h":0.82500,"l":0.81930,"c":0.82078,"v":580000},
      {"t":"2025-08-07T21:45","o":0.82085,"h":0.82330,"l":0.81620,"c":0.82131,"v":330000},
      {"t":"2025-08-07T22:00","o":0.82100,"h":0.82450,"l":0.82050,"c":0.82382,"v":410000},
      {"t":"2025-08-07T22:15","o":0.82382,"h":0.84750,"l":0.82280,"c":0.84193,"v":6380000},
      {"t":"2025-08-07T22:30","o":0.84186,"h":0.84260,"l":0.82400,"c":0.82481,"v":3310000},
      {"t":"2025-08-07T22:45","o":0.82481,"h":0.83400,"l":0.82400,"c":0.83333,"v":1000000},
      {"t":"2025-08-07T23:00","o":0.83348,"h":0.83350,"l":0.82700,"c":0.82854,"v":580000},
      {"t":"2025-08-07T23:15","o":0.82877,"h":0.82950,"l":0.82780,"c":0.82831,"v":440000},
      {"t":"2025-08-07T23:30","o":0.82839,"h":0.83420,"l":0.82780,"c":0.83409,"v":440000},
      {"t":"2025-08-07T23:45","o":0.83409,"h":0.83740,"l":0.83400,"c":0.83729,"v":380000},
      {"t":"2025-08-08T00:00","o":0.83714,"h":0.83850,"l":0.82500,"c":0.83257,"v":1190000},
      {"t":"2025-08-08T00:15","o":0.83181,"h":0.83780,"l":0.81050,"c":0.82747,"v":4900000},
      {"t":"2025-08-08T00:30","o":0.82747,"h":0.84850,"l":0.82500,"c":0.84399,"v":2420000},
      {"t":"2025-08-08T00:45","o":0.84345,"h":0.84650,"l":0.83400,"c":0.83470,"v":1000000},
      {"t":"2025-08-08T01:00","o":0.83447,"h":0.85100,"l":0.81050,"c":0.84224,"v":7690000},
      {"t":"2025-08-08T01:15","o":0.84216,"h":0.84380,"l":0.81450,"c":0.83371,"v":8220000},
      {"t":"2025-08-08T01:30","o":0.83394,"h":0.83450,"l":0.82800,"c":0.82892,"v":1000000},
      {"t":"2025-08-08T01:45","o":0.82892,"h":0.83000,"l":0.82620,"c":0.82931,"v":580000},
      {"t":"2025-08-08T02:00","o":0.82892,"h":0.83100,"l":0.82550,"c":0.83029,"v":580000},
      {"t":"2025-08-08T02:15","o":0.83029,"h":0.83300,"l":0.82380,"c":0.83090,"v":690000},
      {"t":"2025-08-08T02:30","o":0.83052,"h":0.83600,"l":0.82980,"c":0.83387,"v":490000},
      {"t":"2025-08-08T02:45","o":0.83387,"h":0.83730,"l":0.83100,"c":0.83150,"v":380000},
      {"t":"2025-08-08T03:00","o":0.83128,"h":0.83680,"l":0.82980,"c":0.83546,"v":440000},
      {"t":"2025-08-08T03:15","o":0.83546,"h":0.85000,"l":0.83500,"c":0.84589,"v":940000},
      {"t":"2025-08-08T03:30","o":0.84604,"h":0.84620,"l":0.83880,"c":0.83904,"v":630000},
      {"t":"2025-08-08T03:45","o":0.83904,"h":0.84200,"l":0.83750,"c":0.84193,"v":380000},
      {"t":"2025-08-08T04:00","o":0.84208,"h":0.84350,"l":0.83950,"c":0.84003,"v":520000},
      {"t":"2025-08-08T04:15","o":0.84150,"h":0.84300,"l":0.83740,"c":0.84050,"v":440000},
      {"t":"2025-08-08T04:30","o":0.84000,"h":0.84250,"l":0.83550,"c":0.83610,"v":350000},
      {"t":"2025-08-08T04:45","o":0.83610,"h":0.83650,"l":0.83300,"c":0.83340,"v":300000},
      {"t":"2025-08-08T05:00","o":0.83360,"h":0.83410,"l":0.83060,"c":0.83300,"v":440000},
      {"t":"2025-08-08T05:15","o":0.83340,"h":0.83600,"l":0.82840,"c":0.83000,"v":300000},
      {"t":"2025-08-08T05:30","o":0.83000,"h":0.83140,"l":0.82840,"c":0.83090,"v":380000},
      {"t":"2025-08-08T05:45","o":0.83090,"h":0.83120,"l":0.82730,"c":0.82990,"v":270000},
      {"t":"2025-08-08T06:00","o":0.82990,"h":0.83390,"l":0.82760,"c":0.83110,"v":690000},
      {"t":"2025-08-08T06:15","o":0.83110,"h":0.83300,"l":0.82880,"c":0.83270,"v":550000},
      {"t":"2025-08-08T06:30","o":0.83250,"h":0.83520,"l":0.83200,"c":0.83300,"v":300000},
      {"t":"2025-08-08T06:45","o":0.83300,"h":0.84080,"l":0.83150,"c":0.84050,"v":330000},
      {"t":"2025-08-08T07:00","o":0.84050,"h":0.84150,"l":0.83070,"c":0.83530,"v":690000},
      {"t":"2025-08-08T07:15","o":0.83550,"h":0.84450,"l":0.83390,"c":0.83500,"v":630000},
      {"t":"2025-08-08T07:30","o":0.83480,"h":0.83980,"l":0.83440,"c":0.83620,"v":330000},
      {"t":"2025-08-08T07:45","o":0.83620,"h":0.84220,"l":0.83600,"c":0.84000,"v":300000},
      {"t":"2025-08-08T08:00","o":0.84000,"h":0.84700,"l":0.83850,"c":0.84630,"v":720000}
    ]
  },
  "vconcat": [
    {
      "hconcat": [
        {
          "data": {"name": "ondo"},
          "spacing": 0, "bounds": "flush",
          "resolve": {"scale": {"x": "independent", "y": "independent"}},
          "vconcat": [
            {
              "title": {"text": "ONDOUSDT 15m 81.0", "anchor": "middle", "frame": "group"},
              "width": 864, "height": 433.5,
              "layer": [
                {"mark": {"type": "rule", "color": "#1e1e1e", "strokeWidth": 1},
                 "encoding": {
                   "x": {"field": "t", "type": "temporal", "scale": {"domain": [{"year":2025,"month":8,"date":7,"hours":16,"minutes":15},{"year":2025,"month":8,"date":8,"hours":9,"minutes":0}]},
                         "axis": {"values": [{"year":2025,"month":8,"date":7,"hours":17,"minutes":15},{"year":2025,"month":8,"date":7,"hours":19,"minutes":45},{"year":2025,"month":8,"date":7,"hours":22,"minutes":15},{"year":2025,"month":8,"date":8,"hours":0,"minutes":45},{"year":2025,"month":8,"date":8,"hours":3,"minutes":15},{"year":2025,"month":8,"date":8,"hours":5,"minutes":45},{"year":2025,"month":8,"date":8,"hours":8,"minutes":15}], "labels": false, "ticks": false, "title": null}},
                   "y": {"field": "l", "type": "quantitative", "scale": {"domain": [0.97516, 1.02417], "zero": false, "nice": false},
                         "axis": {"orient": "right", "title": "Price", "values": [0.98, 0.99, 1.00, 1.01, 1.02], "format": ".2f"}},
                   "y2": {"field": "h"}}},
                {"mark": {"type": "bar", "width": 9.5, "strokeWidth": 0.8},
                 "encoding": {
                   "x": {"field": "t", "type": "temporal"},
                   "y": {"field": "o", "type": "quantitative"}, "y2": {"field": "c"},
                   "color": {"condition": {"test": "datum.c >= datum.o", "value": "#14a874"}, "value": "#f9373d"},
                   "stroke": {"condition": {"test": "datum.c >= datum.o", "value": "#14a874"}, "value": "#f9373d"}}},
                {"transform": [{"window": [{"op": "mean", "field": "c", "as": "m"}, {"op": "count", "as": "n"}], "frame": [-4, 0], "sort": [{"field": "t"}]}, {"filter": "datum.n == 5"}],
                 "mark": {"type": "line", "color": "#2f6a9a", "strokeWidth": 1.2},
                 "encoding": {"x": {"field": "t", "type": "temporal"}, "y": {"field": "m", "type": "quantitative"}}},
                {"transform": [{"window": [{"op": "mean", "field": "c", "as": "m"}, {"op": "count", "as": "n"}], "frame": [-9, 0], "sort": [{"field": "t"}]}, {"filter": "datum.n == 10"}],
                 "mark": {"type": "line", "color": "#f39a4c", "strokeWidth": 1.2},
                 "encoding": {"x": {"field": "t", "type": "temporal"}, "y": {"field": "m", "type": "quantitative"}}},
                {"transform": [{"window": [{"op": "mean", "field": "c", "as": "m"}, {"op": "count", "as": "n"}], "frame": [-19, 0], "sort": [{"field": "t"}]}, {"filter": "datum.n == 20"}],
                 "mark": {"type": "line", "color": "#55695c", "strokeWidth": 1.2},
                 "encoding": {"x": {"field": "t", "type": "temporal"}, "y": {"field": "m", "type": "quantitative"}}}
              ]
            },
            {
              "width": 864, "height": 172.5,
              "mark": {"type": "bar", "width": 7, "clip": true, "opacity": 0.75},
              "encoding": {
                "x": {"field": "t", "type": "temporal", "scale": {"domain": [{"year":2025,"month":8,"date":7,"hours":16,"minutes":15},{"year":2025,"month":8,"date":8,"hours":9,"minutes":0}]},
                      "axis": {"values": [{"year":2025,"month":8,"date":7,"hours":17,"minutes":15},{"year":2025,"month":8,"date":7,"hours":19,"minutes":45},{"year":2025,"month":8,"date":7,"hours":22,"minutes":15},{"year":2025,"month":8,"date":8,"hours":0,"minutes":45},{"year":2025,"month":8,"date":8,"hours":3,"minutes":15},{"year":2025,"month":8,"date":8,"hours":5,"minutes":45},{"year":2025,"month":8,"date":8,"hours":8,"minutes":15}],
                               "format": "%b %d, %H:%M", "labelExpr": "hours(datum.value) == 8 ? '' : datum.label", "labelAngle": -45, "labelAlign": "center", "labelBaseline": "middle", "labelPadding": 45, "labelFlush": false, "labelOverlap": false, "title": null}},
                "y": {"field": "v", "type": "quantitative", "scale": {"domain": [175000, 4549000], "zero": false, "nice": false},
                      "axis": {"orient": "right", "title": "Volume  10⁶", "values": [1000000, 2000000, 3000000, 4000000], "labelExpr": "format(datum.value / 1000000, 'd')"}},
                "color": {"condition": {"test": "datum.c >= datum.o", "value": "#14a874"}, "value": "#f9373d"}}
            }
          ]
        },
        {
          "data": {"name": "wld"},
          "spacing": 0, "bounds": "flush",
          "resolve": {"scale": {"x": "independent", "y": "independent"}},
          "vconcat": [
            {
              "title": {"text": "WLDUSDT 15m 127.0", "anchor": "middle", "frame": "group"},
              "width": 864, "height": 433.5,
              "layer": [
                {"mark": {"type": "rule", "color": "#1e1e1e", "strokeWidth": 1},
                 "encoding": {
                   "x": {"field": "t", "type": "temporal", "scale": {"domain": [{"year":2025,"month":8,"date":7,"hours":16,"minutes":15},{"year":2025,"month":8,"date":8,"hours":9,"minutes":0}]},
                         "axis": {"values": [{"year":2025,"month":8,"date":7,"hours":17,"minutes":15},{"year":2025,"month":8,"date":7,"hours":19,"minutes":45},{"year":2025,"month":8,"date":7,"hours":22,"minutes":15},{"year":2025,"month":8,"date":8,"hours":0,"minutes":45},{"year":2025,"month":8,"date":8,"hours":3,"minutes":15},{"year":2025,"month":8,"date":8,"hours":5,"minutes":45},{"year":2025,"month":8,"date":8,"hours":8,"minutes":15}], "labels": false, "ticks": false, "title": null}},
                   "y": {"field": "l", "type": "quantitative", "scale": {"domain": [0.98435, 1.03586], "zero": false, "nice": false},
                         "axis": {"orient": "right", "title": "Price", "values": [0.99, 1.00, 1.01, 1.02, 1.03], "format": ".2f"}},
                   "y2": {"field": "h"}}},
                {"mark": {"type": "bar", "width": 9.5, "strokeWidth": 0.8},
                 "encoding": {
                   "x": {"field": "t", "type": "temporal"},
                   "y": {"field": "o", "type": "quantitative"}, "y2": {"field": "c"},
                   "color": {"condition": {"test": "datum.c >= datum.o", "value": "#14a874"}, "value": "#f9373d"},
                   "stroke": {"condition": {"test": "datum.c >= datum.o", "value": "#14a874"}, "value": "#f9373d"}}},
                {"transform": [{"window": [{"op": "mean", "field": "c", "as": "m"}, {"op": "count", "as": "n"}], "frame": [-4, 0], "sort": [{"field": "t"}]}, {"filter": "datum.n == 5"}],
                 "mark": {"type": "line", "color": "#2f6a9a", "strokeWidth": 1.2},
                 "encoding": {"x": {"field": "t", "type": "temporal"}, "y": {"field": "m", "type": "quantitative"}}},
                {"transform": [{"window": [{"op": "mean", "field": "c", "as": "m"}, {"op": "count", "as": "n"}], "frame": [-9, 0], "sort": [{"field": "t"}]}, {"filter": "datum.n == 10"}],
                 "mark": {"type": "line", "color": "#f39a4c", "strokeWidth": 1.2},
                 "encoding": {"x": {"field": "t", "type": "temporal"}, "y": {"field": "m", "type": "quantitative"}}},
                {"transform": [{"window": [{"op": "mean", "field": "c", "as": "m"}, {"op": "count", "as": "n"}], "frame": [-19, 0], "sort": [{"field": "t"}]}, {"filter": "datum.n == 20"}],
                 "mark": {"type": "line", "color": "#55695c", "strokeWidth": 1.2},
                 "encoding": {"x": {"field": "t", "type": "temporal"}, "y": {"field": "m", "type": "quantitative"}}}
              ]
            },
            {
              "width": 864, "height": 172.5,
              "mark": {"type": "bar", "width": 7, "clip": true, "opacity": 0.75},
              "encoding": {
                "x": {"field": "t", "type": "temporal", "scale": {"domain": [{"year":2025,"month":8,"date":7,"hours":16,"minutes":15},{"year":2025,"month":8,"date":8,"hours":9,"minutes":0}]},
                      "axis": {"values": [{"year":2025,"month":8,"date":7,"hours":17,"minutes":15},{"year":2025,"month":8,"date":7,"hours":19,"minutes":45},{"year":2025,"month":8,"date":7,"hours":22,"minutes":15},{"year":2025,"month":8,"date":8,"hours":0,"minutes":45},{"year":2025,"month":8,"date":8,"hours":3,"minutes":15},{"year":2025,"month":8,"date":8,"hours":5,"minutes":45},{"year":2025,"month":8,"date":8,"hours":8,"minutes":15}],
                               "format": "%b %d, %H:%M", "labelExpr": "hours(datum.value) == 8 ? '' : datum.label", "labelAngle": -45, "labelAlign": "center", "labelBaseline": "middle", "labelPadding": 45, "labelFlush": false, "labelOverlap": false, "title": null}},
                "y": {"field": "v", "type": "quantitative", "scale": {"domain": [152000, 5658000], "zero": false, "nice": false},
                      "axis": {"orient": "right", "title": "Volume  10⁶", "values": [1000000, 2000000, 3000000, 4000000, 5000000], "labelExpr": "format(datum.value / 1000000, 'd')"}},
                "color": {"condition": {"test": "datum.c >= datum.o", "value": "#14a874"}, "value": "#f9373d"}}
            }
          ]
        }
      ],
      "spacing": 277.7,
      "resolve": {"scale": {"x": "independent", "y": "independent"}}
    },
    {
      "hconcat": [
        {
          "data": {"name": "lau"},
          "spacing": 0, "bounds": "flush",
          "resolve": {"scale": {"x": "independent", "y": "independent"}},
          "vconcat": [
            {
              "title": {"text": "LAUSDT 15m 19.0", "anchor": "middle", "frame": "group"},
              "width": 864, "height": 433.5,
              "layer": [
                {"mark": {"type": "rule", "color": "#1e1e1e", "strokeWidth": 1},
                 "encoding": {
                   "x": {"field": "t", "type": "temporal", "scale": {"domain": [{"year":2025,"month":8,"date":7,"hours":16,"minutes":15},{"year":2025,"month":8,"date":8,"hours":9,"minutes":0}]},
                         "axis": {"values": [{"year":2025,"month":8,"date":7,"hours":17,"minutes":15},{"year":2025,"month":8,"date":7,"hours":19,"minutes":45},{"year":2025,"month":8,"date":7,"hours":22,"minutes":15},{"year":2025,"month":8,"date":8,"hours":0,"minutes":45},{"year":2025,"month":8,"date":8,"hours":3,"minutes":15},{"year":2025,"month":8,"date":8,"hours":5,"minutes":45},{"year":2025,"month":8,"date":8,"hours":8,"minutes":15}], "labels": false, "ticks": false, "title": null}},
                   "y": {"field": "l", "type": "quantitative", "scale": {"domain": [0.29873, 0.31980], "zero": false, "nice": false},
                         "axis": {"orient": "right", "title": "Price", "values": [0.3000, 0.3025, 0.3050, 0.3075, 0.3100, 0.3125, 0.3150, 0.3175], "format": ".4f"}},
                   "y2": {"field": "h"}}},
                {"mark": {"type": "bar", "width": 9.5, "strokeWidth": 0.8},
                 "encoding": {
                   "x": {"field": "t", "type": "temporal"},
                   "y": {"field": "o", "type": "quantitative"}, "y2": {"field": "c"},
                   "color": {"condition": {"test": "datum.c >= datum.o", "value": "#14a874"}, "value": "#f9373d"},
                   "stroke": {"condition": {"test": "datum.c >= datum.o", "value": "#14a874"}, "value": "#f9373d"}}},
                {"transform": [{"window": [{"op": "mean", "field": "c", "as": "m"}, {"op": "count", "as": "n"}], "frame": [-4, 0], "sort": [{"field": "t"}]}, {"filter": "datum.n == 5"}],
                 "mark": {"type": "line", "color": "#2f6a9a", "strokeWidth": 1.2},
                 "encoding": {"x": {"field": "t", "type": "temporal"}, "y": {"field": "m", "type": "quantitative"}}},
                {"transform": [{"window": [{"op": "mean", "field": "c", "as": "m"}, {"op": "count", "as": "n"}], "frame": [-9, 0], "sort": [{"field": "t"}]}, {"filter": "datum.n == 10"}],
                 "mark": {"type": "line", "color": "#f39a4c", "strokeWidth": 1.2},
                 "encoding": {"x": {"field": "t", "type": "temporal"}, "y": {"field": "m", "type": "quantitative"}}},
                {"transform": [{"window": [{"op": "mean", "field": "c", "as": "m"}, {"op": "count", "as": "n"}], "frame": [-19, 0], "sort": [{"field": "t"}]}, {"filter": "datum.n == 20"}],
                 "mark": {"type": "line", "color": "#55695c", "strokeWidth": 1.2},
                 "encoding": {"x": {"field": "t", "type": "temporal"}, "y": {"field": "m", "type": "quantitative"}}}
              ]
            },
            {
              "width": 864, "height": 172.5,
              "mark": {"type": "bar", "width": 7, "clip": true, "opacity": 0.75},
              "encoding": {
                "x": {"field": "t", "type": "temporal", "scale": {"domain": [{"year":2025,"month":8,"date":7,"hours":16,"minutes":15},{"year":2025,"month":8,"date":8,"hours":9,"minutes":0}]},
                      "axis": {"values": [{"year":2025,"month":8,"date":7,"hours":17,"minutes":15},{"year":2025,"month":8,"date":7,"hours":19,"minutes":45},{"year":2025,"month":8,"date":7,"hours":22,"minutes":15},{"year":2025,"month":8,"date":8,"hours":0,"minutes":45},{"year":2025,"month":8,"date":8,"hours":3,"minutes":15},{"year":2025,"month":8,"date":8,"hours":5,"minutes":45},{"year":2025,"month":8,"date":8,"hours":8,"minutes":15}],
                               "format": "%b %d, %H:%M", "labelExpr": "hours(datum.value) == 8 ? '' : datum.label", "labelAngle": -45, "labelAlign": "center", "labelBaseline": "middle", "labelPadding": 45, "labelFlush": false, "labelOverlap": false, "title": null}},
                "y": {"field": "v", "type": "quantitative", "scale": {"domain": [33000, 2835000], "zero": false, "nice": false},
                      "axis": {"orient": "right", "title": "Volume  10⁶", "values": [500000, 1000000, 1500000, 2000000, 2500000], "labelExpr": "format(datum.value / 1000000, '.1f')"}},
                "color": {"condition": {"test": "datum.c >= datum.o", "value": "#14a874"}, "value": "#f9373d"}}
            }
          ]
        },
        {
          "data": {"name": "wct"},
          "spacing": 0, "bounds": "flush",
          "resolve": {"scale": {"x": "independent", "y": "independent"}},
          "vconcat": [
            {
              "title": {"text": "WCTUSDT 15m 11.0", "anchor": "middle", "frame": "group"},
              "width": 864, "height": 433.5,
              "layer": [
                {"mark": {"type": "rule", "color": "#1e1e1e", "strokeWidth": 1},
                 "encoding": {
                   "x": {"field": "t", "type": "temporal", "scale": {"domain": [{"year":2025,"month":8,"date":7,"hours":16,"minutes":15},{"year":2025,"month":8,"date":8,"hours":9,"minutes":0}]},
                         "axis": {"values": [{"year":2025,"month":8,"date":7,"hours":17,"minutes":15},{"year":2025,"month":8,"date":7,"hours":19,"minutes":45},{"year":2025,"month":8,"date":7,"hours":22,"minutes":15},{"year":2025,"month":8,"date":8,"hours":0,"minutes":45},{"year":2025,"month":8,"date":8,"hours":3,"minutes":15},{"year":2025,"month":8,"date":8,"hours":5,"minutes":45},{"year":2025,"month":8,"date":8,"hours":8,"minutes":15}], "labels": false, "ticks": false, "title": null}},
                   "y": {"field": "l", "type": "quantitative", "scale": {"domain": [0.30270, 0.31775], "zero": false, "nice": false},
                         "axis": {"orient": "right", "title": "Price", "values": [0.304, 0.306, 0.308, 0.310, 0.312, 0.314, 0.316], "format": ".3f"}},
                   "y2": {"field": "h"}}},
                {"mark": {"type": "bar", "width": 9.5, "strokeWidth": 0.8},
                 "encoding": {
                   "x": {"field": "t", "type": "temporal"},
                   "y": {"field": "o", "type": "quantitative"}, "y2": {"field": "c"},
                   "color": {"condition": {"test": "datum.c >= datum.o", "value": "#14a874"}, "value": "#f9373d"},
                   "stroke": {"condition": {"test": "datum.c >= datum.o", "value": "#14a874"}, "value": "#f9373d"}}},
                {"transform": [{"window": [{"op": "mean", "field": "c", "as": "m"}, {"op": "count", "as": "n"}], "frame": [-4, 0], "sort": [{"field": "t"}]}, {"filter": "datum.n == 5"}],
                 "mark": {"type": "line", "color": "#2f6a9a", "strokeWidth": 1.2},
                 "encoding": {"x": {"field": "t", "type": "temporal"}, "y": {"field": "m", "type": "quantitative"}}},
                {"transform": [{"window": [{"op": "mean", "field": "c", "as": "m"}, {"op": "count", "as": "n"}], "frame": [-9, 0], "sort": [{"field": "t"}]}, {"filter": "datum.n == 10"}],
                 "mark": {"type": "line", "color": "#f39a4c", "strokeWidth": 1.2},
                 "encoding": {"x": {"field": "t", "type": "temporal"}, "y": {"field": "m", "type": "quantitative"}}},
                {"transform": [{"window": [{"op": "mean", "field": "c", "as": "m"}, {"op": "count", "as": "n"}], "frame": [-19, 0], "sort": [{"field": "t"}]}, {"filter": "datum.n == 20"}],
                 "mark": {"type": "line", "color": "#55695c", "strokeWidth": 1.2},
                 "encoding": {"x": {"field": "t", "type": "temporal"}, "y": {"field": "m", "type": "quantitative"}}}
              ]
            },
            {
              "width": 864, "height": 172.5,
              "mark": {"type": "bar", "width": 7, "clip": true, "opacity": 0.75},
              "encoding": {
                "x": {"field": "t", "type": "temporal", "scale": {"domain": [{"year":2025,"month":8,"date":7,"hours":16,"minutes":15},{"year":2025,"month":8,"date":8,"hours":9,"minutes":0}]},
                      "axis": {"values": [{"year":2025,"month":8,"date":7,"hours":17,"minutes":15},{"year":2025,"month":8,"date":7,"hours":19,"minutes":45},{"year":2025,"month":8,"date":7,"hours":22,"minutes":15},{"year":2025,"month":8,"date":8,"hours":0,"minutes":45},{"year":2025,"month":8,"date":8,"hours":3,"minutes":15},{"year":2025,"month":8,"date":8,"hours":5,"minutes":45},{"year":2025,"month":8,"date":8,"hours":8,"minutes":15}],
                               "format": "%b %d, %H:%M", "labelExpr": "hours(datum.value) == 8 ? '' : datum.label", "labelAngle": -45, "labelAlign": "center", "labelBaseline": "middle", "labelPadding": 45, "labelFlush": false, "labelOverlap": false, "title": null}},
                "y": {"field": "v", "type": "quantitative", "scale": {"domain": [56000, 3028000], "zero": false, "nice": false},
                      "axis": {"orient": "right", "title": "Volume  10⁶", "values": [1000000, 2000000, 3000000], "labelExpr": "format(datum.value / 1000000, 'd')"}},
                "color": {"condition": {"test": "datum.c >= datum.o", "value": "#14a874"}, "value": "#f9373d"}}
            }
          ]
        }
      ],
      "spacing": 260,
      "resolve": {"scale": {"x": "independent", "y": "independent"}}
    },
    {
      "hconcat": [
        {
          "data": {"name": "nxpc"},
          "spacing": 0, "bounds": "flush",
          "resolve": {"scale": {"x": "independent", "y": "independent"}},
          "vconcat": [
            {
              "title": {"text": "NXPCUSDT 15m 12.0", "anchor": "middle", "frame": "group"},
              "width": 864, "height": 433.5,
              "layer": [
                {"mark": {"type": "rule", "color": "#1e1e1e", "strokeWidth": 1},
                 "encoding": {
                   "x": {"field": "t", "type": "temporal", "scale": {"domain": [{"year":2025,"month":8,"date":7,"hours":16,"minutes":15},{"year":2025,"month":8,"date":8,"hours":9,"minutes":0}]},
                         "axis": {"values": [{"year":2025,"month":8,"date":7,"hours":17,"minutes":15},{"year":2025,"month":8,"date":7,"hours":19,"minutes":45},{"year":2025,"month":8,"date":7,"hours":22,"minutes":15},{"year":2025,"month":8,"date":8,"hours":0,"minutes":45},{"year":2025,"month":8,"date":8,"hours":3,"minutes":15},{"year":2025,"month":8,"date":8,"hours":5,"minutes":45},{"year":2025,"month":8,"date":8,"hours":8,"minutes":15}], "labels": false, "ticks": false, "title": null}},
                   "y": {"field": "l", "type": "quantitative", "scale": {"domain": [0.90770, 0.94174], "zero": false, "nice": false},
                         "axis": {"orient": "right", "title": "Price", "values": [0.910, 0.915, 0.920, 0.925, 0.930, 0.935, 0.940], "format": ".3f"}},
                   "y2": {"field": "h"}}},
                {"mark": {"type": "bar", "width": 9.5, "strokeWidth": 0.8},
                 "encoding": {
                   "x": {"field": "t", "type": "temporal"},
                   "y": {"field": "o", "type": "quantitative"}, "y2": {"field": "c"},
                   "color": {"condition": {"test": "datum.c >= datum.o", "value": "#14a874"}, "value": "#f9373d"},
                   "stroke": {"condition": {"test": "datum.c >= datum.o", "value": "#14a874"}, "value": "#f9373d"}}},
                {"transform": [{"window": [{"op": "mean", "field": "c", "as": "m"}, {"op": "count", "as": "n"}], "frame": [-4, 0], "sort": [{"field": "t"}]}, {"filter": "datum.n == 5"}],
                 "mark": {"type": "line", "color": "#2f6a9a", "strokeWidth": 1.2},
                 "encoding": {"x": {"field": "t", "type": "temporal"}, "y": {"field": "m", "type": "quantitative"}}},
                {"transform": [{"window": [{"op": "mean", "field": "c", "as": "m"}, {"op": "count", "as": "n"}], "frame": [-9, 0], "sort": [{"field": "t"}]}, {"filter": "datum.n == 10"}],
                 "mark": {"type": "line", "color": "#f39a4c", "strokeWidth": 1.2},
                 "encoding": {"x": {"field": "t", "type": "temporal"}, "y": {"field": "m", "type": "quantitative"}}},
                {"transform": [{"window": [{"op": "mean", "field": "c", "as": "m"}, {"op": "count", "as": "n"}], "frame": [-19, 0], "sort": [{"field": "t"}]}, {"filter": "datum.n == 20"}],
                 "mark": {"type": "line", "color": "#55695c", "strokeWidth": 1.2},
                 "encoding": {"x": {"field": "t", "type": "temporal"}, "y": {"field": "m", "type": "quantitative"}}}
              ]
            },
            {
              "width": 864, "height": 172.5,
              "mark": {"type": "bar", "width": 7, "clip": true, "opacity": 0.75},
              "encoding": {
                "x": {"field": "t", "type": "temporal", "scale": {"domain": [{"year":2025,"month":8,"date":7,"hours":16,"minutes":15},{"year":2025,"month":8,"date":8,"hours":9,"minutes":0}]},
                      "axis": {"values": [{"year":2025,"month":8,"date":7,"hours":17,"minutes":15},{"year":2025,"month":8,"date":7,"hours":19,"minutes":45},{"year":2025,"month":8,"date":7,"hours":22,"minutes":15},{"year":2025,"month":8,"date":8,"hours":0,"minutes":45},{"year":2025,"month":8,"date":8,"hours":3,"minutes":15},{"year":2025,"month":8,"date":8,"hours":5,"minutes":45},{"year":2025,"month":8,"date":8,"hours":8,"minutes":15}],
                               "format": "%b %d, %H:%M", "labelExpr": "hours(datum.value) == 8 ? '' : datum.label", "labelAngle": -45, "labelAlign": "center", "labelBaseline": "middle", "labelPadding": 45, "labelFlush": false, "labelOverlap": false, "title": null}},
                "y": {"field": "v", "type": "quantitative", "scale": {"domain": [11300, 445000], "zero": false, "nice": false},
                      "axis": {"orient": "right", "title": "Volume", "values": [100000, 200000, 300000, 400000], "format": "d"}},
                "color": {"condition": {"test": "datum.c >= datum.o", "value": "#14a874"}, "value": "#f9373d"}}
            }
          ]
        },
        {
          "data": {"name": "sushi"},
          "spacing": 0, "bounds": "flush",
          "resolve": {"scale": {"x": "independent", "y": "independent"}},
          "vconcat": [
            {
              "title": {"text": "SUSHIUSDT 15m 18.0", "anchor": "middle", "frame": "group"},
              "width": 864, "height": 433.5,
              "layer": [
                {"mark": {"type": "rule", "color": "#1e1e1e", "strokeWidth": 1},
                 "encoding": {
                   "x": {"field": "t", "type": "temporal", "scale": {"domain": [{"year":2025,"month":8,"date":7,"hours":16,"minutes":15},{"year":2025,"month":8,"date":8,"hours":9,"minutes":0}]},
                         "axis": {"values": [{"year":2025,"month":8,"date":7,"hours":17,"minutes":15},{"year":2025,"month":8,"date":7,"hours":19,"minutes":45},{"year":2025,"month":8,"date":7,"hours":22,"minutes":15},{"year":2025,"month":8,"date":8,"hours":0,"minutes":45},{"year":2025,"month":8,"date":8,"hours":3,"minutes":15},{"year":2025,"month":8,"date":8,"hours":5,"minutes":45},{"year":2025,"month":8,"date":8,"hours":8,"minutes":15}], "labels": false, "ticks": false, "title": null}},
                   "y": {"field": "l", "type": "quantitative", "scale": {"domain": [0.79323, 0.85411], "zero": false, "nice": false},
                         "axis": {"orient": "right", "title": "Price", "values": [0.80, 0.81, 0.82, 0.83, 0.84, 0.85], "format": ".2f"}},
                   "y2": {"field": "h"}}},
                {"mark": {"type": "bar", "width": 9.5, "strokeWidth": 0.8},
                 "encoding": {
                   "x": {"field": "t", "type": "temporal"},
                   "y": {"field": "o", "type": "quantitative"}, "y2": {"field": "c"},
                   "color": {"condition": {"test": "datum.c >= datum.o", "value": "#14a874"}, "value": "#f9373d"},
                   "stroke": {"condition": {"test": "datum.c >= datum.o", "value": "#14a874"}, "value": "#f9373d"}}},
                {"transform": [{"window": [{"op": "mean", "field": "c", "as": "m"}, {"op": "count", "as": "n"}], "frame": [-4, 0], "sort": [{"field": "t"}]}, {"filter": "datum.n == 5"}],
                 "mark": {"type": "line", "color": "#2f6a9a", "strokeWidth": 1.2},
                 "encoding": {"x": {"field": "t", "type": "temporal"}, "y": {"field": "m", "type": "quantitative"}}},
                {"transform": [{"window": [{"op": "mean", "field": "c", "as": "m"}, {"op": "count", "as": "n"}], "frame": [-9, 0], "sort": [{"field": "t"}]}, {"filter": "datum.n == 10"}],
                 "mark": {"type": "line", "color": "#f39a4c", "strokeWidth": 1.2},
                 "encoding": {"x": {"field": "t", "type": "temporal"}, "y": {"field": "m", "type": "quantitative"}}},
                {"transform": [{"window": [{"op": "mean", "field": "c", "as": "m"}, {"op": "count", "as": "n"}], "frame": [-19, 0], "sort": [{"field": "t"}]}, {"filter": "datum.n == 20"}],
                 "mark": {"type": "line", "color": "#55695c", "strokeWidth": 1.2},
                 "encoding": {"x": {"field": "t", "type": "temporal"}, "y": {"field": "m", "type": "quantitative"}}}
              ]
            },
            {
              "width": 864, "height": 172.5,
              "mark": {"type": "bar", "width": 7, "clip": true, "opacity": 0.75},
              "encoding": {
                "x": {"field": "t", "type": "temporal", "scale": {"domain": [{"year":2025,"month":8,"date":7,"hours":16,"minutes":15},{"year":2025,"month":8,"date":8,"hours":9,"minutes":0}]},
                      "axis": {"values": [{"year":2025,"month":8,"date":7,"hours":17,"minutes":15},{"year":2025,"month":8,"date":7,"hours":19,"minutes":45},{"year":2025,"month":8,"date":7,"hours":22,"minutes":15},{"year":2025,"month":8,"date":8,"hours":0,"minutes":45},{"year":2025,"month":8,"date":8,"hours":3,"minutes":15},{"year":2025,"month":8,"date":8,"hours":5,"minutes":45},{"year":2025,"month":8,"date":8,"hours":8,"minutes":15}],
                               "format": "%b %d, %H:%M", "labelExpr": "hours(datum.value) == 8 ? '' : datum.label", "labelAngle": -45, "labelAlign": "center", "labelBaseline": "middle", "labelPadding": 45, "labelFlush": false, "labelOverlap": false, "title": null}},
                "y": {"field": "v", "type": "quantitative", "scale": {"domain": [74000, 8977000], "zero": false, "nice": false},
                      "axis": {"orient": "right", "title": "Volume  10⁶", "values": [2000000, 4000000, 6000000, 8000000], "labelExpr": "format(datum.value / 1000000, 'd')"}},
                "color": {"condition": {"test": "datum.c >= datum.o", "value": "#14a874"}, "value": "#f9373d"}}
            }
          ]
        }
      ],
      "spacing": 255.6,
      "resolve": {"scale": {"x": "independent", "y": "independent"}}
    }
  ],
  "spacing": 71.6,
  "resolve": {"scale": {"x": "independent", "y": "independent"}}
}
